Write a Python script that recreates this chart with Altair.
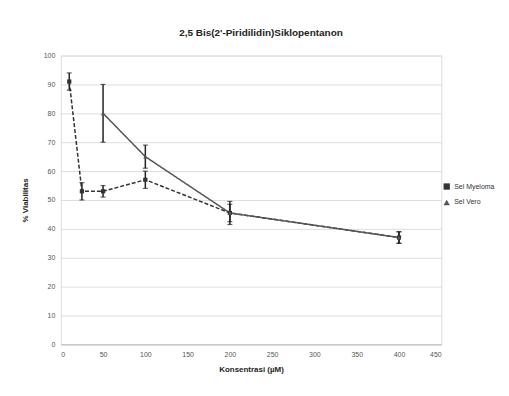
import altair as alt
import pandas as pd

title = "2,5 Bis(2'-Piridilidin)Siklopentanon"
series_names = ["Sel Myeloma", "Sel Vero"]

x_myeloma = [10, 25, 50, 100, 200, 400]
y_myeloma = [91, 53, 53, 57, 45.5, 37]
e_myeloma = [3, 3, 2, 3, 4, 2]

x_vero = [50, 100, 200, 400]
y_vero = [80, 65, 45.5, 37]
e_vero = [10, 4, 3, 2]

x_ticks = list(range(0, 451, 50))
y_ticks = list(range(0, 101, 10))

rows = []
for xs, ys, es, name in [(x_myeloma, y_myeloma, e_myeloma, series_names[0]),
                         (x_vero, y_vero, e_vero, series_names[1])]:
    for x, y, e in zip(xs, ys, es):
        rows.append({"conc": x, "viab": y, "lo": y - e, "hi": y + e, "series": name})
df = pd.DataFrame(rows)

xscale = alt.Scale(domain=[0, 450], nice=False)
yscale = alt.Scale(domain=[0, 100], nice=False)

xax = alt.Axis(values=x_ticks, title="Konsentrasi (µM)", grid=False,
               ticks=False, domain=True, domainColor="#bbbbbb", labelFontSize=7,
               labelColor="#555555", titleFontSize=8, titleColor="#222222",
               titlePadding=8, labelPadding=6)
yax = alt.Axis(values=y_ticks, tickCount=11, title="% Viabilitas", grid=True,
               gridColor="#dddddd", ticks=False, domain=False, labelFontSize=7,
               labelColor="#555555", titleFontSize=8, titleColor="#222222",
               titlePadding=14, labelPadding=6, labelOverlap=False)


def X(field):
    return alt.X(field, type="quantitative", scale=xscale, axis=xax)


def Y(field):
    return alt.Y(field, type="quantitative", scale=yscale, axis=yax, title="% Viabilitas")


leg = dict(title=None, orient="none", legendX=384, legendY=128)
color = alt.Color("series:N", scale=alt.Scale(domain=series_names, range=["#333333", "#555555"]),
                  legend=alt.Legend(labelFontSize=7, labelColor="#333333", symbolSize=40,
                                    symbolStrokeWidth=0, rowPadding=8, **leg))
dash = alt.StrokeDash("series:N", scale=alt.Scale(domain=series_names, range=[[4, 2], [1, 0]]),
                      legend=alt.Legend(**leg))
shape = alt.Shape("series:N", scale=alt.Scale(domain=series_names, range=["square", "triangle-up"]),
                  legend=alt.Legend(**leg))

base = alt.Chart(df)

lines = base.mark_line(strokeWidth=1.5).encode(
    x=X("conc"), y=Y("viab"),
    color=color, strokeDash=dash, detail="series:N",
)
points = base.mark_point(filled=True, size=18, opacity=1).encode(
    x=X("conc"), y=Y("viab"), color=color, shape=shape,
)
bars = base.mark_rule(strokeWidth=1.5, color="#222222").encode(
    x=X("conc"), y=Y("lo"), y2="hi:Q",
)
caps_lo = base.mark_tick(size=5, thickness=1.2, color="#222222", orient="horizontal").encode(
    x=X("conc"), y=Y("lo"),
)
caps_hi = base.mark_tick(size=5, thickness=1.2, color="#222222", orient="horizontal").encode(
    x=X("conc"), y=Y("hi"),
)

chart = alt.layer(lines, bars, caps_lo, caps_hi, points).properties(
    width=382, height=290,
    autosize=alt.AutoSizeParams(type="none"),
    padding={"left": 53, "top": 47, "right": 60, "bottom": 35},
    title=alt.TitleParams(title, fontSize=10, fontWeight="bold", color="#222222",
                          font="Liberation Sans", offset=14, dx=10),
).configure_view(stroke=None).configure(font="Liberation Sans", background="white")

chart.save("out.html", embed_options={"renderer": "svg", "actions": False})
